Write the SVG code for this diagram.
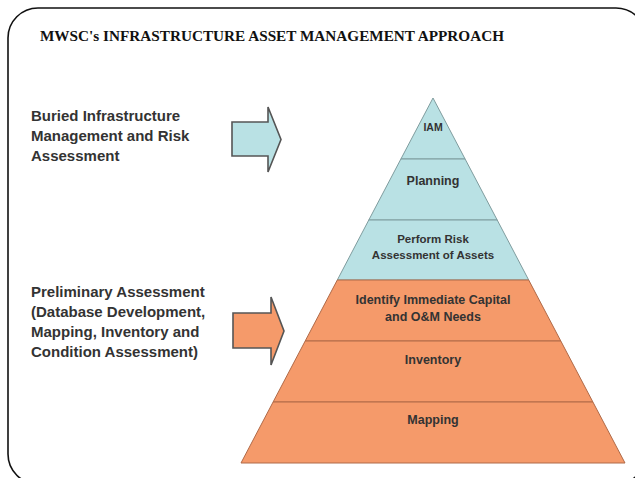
<svg xmlns="http://www.w3.org/2000/svg" width="635" height="478" viewBox="0 0 635 478">
<style>
.title{font-family:"Liberation Serif","Times New Roman",serif;font-weight:bold;font-size:15.5px;fill:#111}
.side{font-family:"Liberation Sans",Arial,sans-serif;font-weight:bold;font-size:15px;fill:#333}
.lbl{font-family:"Liberation Sans",Arial,sans-serif;font-weight:bold;font-size:12px;fill:#333;text-anchor:middle}
.blue{fill:#b9e1e4;stroke:#7f9c9e;stroke-width:1}
.orange{fill:#f59a6a;stroke:#b06a48;stroke-width:1}
.arrow{stroke:#555;stroke-width:1.6;stroke-linejoin:miter}
</style>
<rect x="8" y="8" width="638" height="476" rx="30" ry="30" fill="#fff" stroke="#111" stroke-width="1.6"/>
<text class="title" x="40" y="41" textLength="464" lengthAdjust="spacingAndGlyphs">MWSC's INFRASTRUCTURE ASSET MANAGEMENT APPROACH</text>
<g id="label-buried">
<text class="side" x="31" y="121">Buried Infrastructure</text>
<text class="side" x="31" y="141">Management and Risk</text>
<text class="side" x="31" y="161">Assessment</text>
</g>
<g id="label-preliminary">
<text class="side" x="31" y="297">Preliminary Assessment</text>
<text class="side" x="31" y="317">(Database Development,</text>
<text class="side" x="31" y="337">Mapping, Inventory and</text>
<text class="side" x="31" y="357">Condition Assessment)</text>
</g>
<g id="connectors">
<path class="arrow" fill="#b9e1e4" d="M232,122 H268 V107 L281,139.5 L268,172 V156 H232 Z"/>
<path class="arrow" fill="#f59a6a" d="M233,313 H271 V297 L284,331 L271,365 V348 H233 Z"/>
</g>
<g id="layer-iam">
<polygon class="blue" points="433,98 465.1,159 400.9,159"/>
<text class="lbl" x="433" y="131" font-size="10.5" style="font-size:10.5px">IAM</text>
</g>
<g id="layer-planning">
<polygon class="blue" points="400.9,159 465.1,159 497.2,220 368.8,220"/>
<text class="lbl" x="433" y="185" style="font-size:12.5px">Planning</text>
</g>
<g id="layer-risk">
<polygon class="blue" points="368.8,220 497.2,220 528.7,280 337.3,280"/>
<text class="lbl" x="433" y="243" style="font-size:11.5px">Perform Risk</text>
<text class="lbl" x="433" y="259" style="font-size:11.5px">Assessment of Assets</text>
</g>
<g id="layer-identify">
<polygon class="orange" points="337.3,280 528.7,280 560.8,341 305.2,341"/>
<text class="lbl" x="433" y="304" style="font-size:12.5px">Identify Immediate Capital</text>
<text class="lbl" x="433" y="321" style="font-size:12.5px">and O&amp;M Needs</text>
</g>
<g id="layer-inventory">
<polygon class="orange" points="305.2,341 560.8,341 592.9,402 273.1,402"/>
<text class="lbl" x="433" y="364" style="font-size:12.5px">Inventory</text>
</g>
<g id="layer-mapping">
<polygon class="orange" points="273.1,402 592.9,402 625,463 241,463"/>
<text class="lbl" x="433" y="424" style="font-size:12.5px">Mapping</text>
</g>
</svg>
